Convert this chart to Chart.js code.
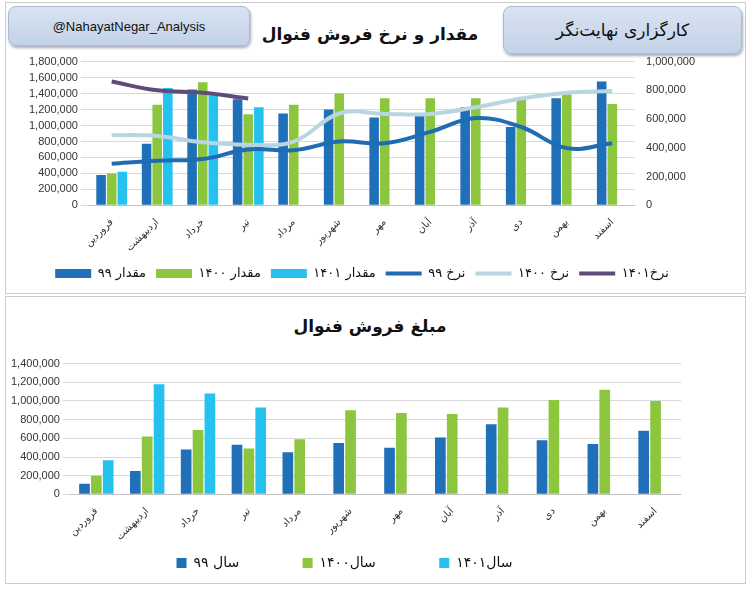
<!DOCTYPE html>
<html><head><meta charset="utf-8">
<script src="https://cdn.jsdelivr.net/npm/chart.js@4"></script>
<style>
body{margin:0;background:#fff;width:749px;height:590px;position:relative;font-family:"DejaVu Sans",sans-serif;overflow:hidden}
.box{position:absolute;background:linear-gradient(#d9e3f1,#c3d2e8);border:1px solid #a9b9d3;border-radius:8px;color:#111;display:flex;align-items:center;justify-content:center;box-shadow:1px 2px 3px #aab}
.panel{position:absolute;border:1px solid #ccc}
.title{position:absolute;font-weight:bold;font-size:17px;color:#111;text-align:center;direction:rtl}
canvas{position:absolute}
</style></head><body>
<div class="panel" style="left:5px;top:2px;width:739px;height:290px"></div>
<div class="panel" style="left:5px;top:296px;width:739px;height:286px"></div>
<div class="box" style="left:8px;top:6px;width:240px;height:38px;font-size:13px;font-family:Arial,'Liberation Sans'">@NahayatNegar_Analysis</div>
<div class="box" style="left:503px;top:6px;width:237px;height:46px;font-size:17px;direction:rtl">کارگزاری نهایت‌نگر</div>
<div class="title" style="left:250px;top:24px;width:240px">مقدار و نرخ فروش فنوال</div>
<div class="title" style="left:250px;top:316px;width:240px">مبلغ فروش فنوال</div>
<div style="position:absolute;left:8px;top:52px;width:690px;height:238px"><canvas id="c1"></canvas></div>
<div style="position:absolute;left:8px;top:354px;width:735px;height:226px"><canvas id="c2"></canvas></div>
<script>
const months=["فروردین","اردیبهشت","خرداد","تیر","مرداد","شهریور","مهر","آبان","آذر","دی","بهمن","اسفند"];
const qty99=[380000,770000,1450000,1330000,1150000,1200000,1100000,1125000,1230000,980000,1340000,1550000];
const qty1400=[400000,1260000,1540000,1140000,1260000,1400000,1340000,1340000,1340000,1330000,1390000,1270000];
const qty1401=[420000,1470000,1380000,1230000,null,null,null,null,null,null,null,null];
const rate99=[289000,311000,322000,389000,383000,444000,432000,511000,607000,545000,398000,432000];
const rate1400=[489000,483000,439000,422000,444000,639000,636000,636000,682000,743000,784000,795000];
const rate1401=[861000,800000,783000,744000,null,null,null,null,null,null,null,null];
const amt99=[115000,250000,480000,530000,450000,550000,500000,610000,750000,580000,540000,680000];
const amt1400=[200000,620000,690000,490000,590000,900000,870000,860000,930000,1010000,1120000,1000000];
const amt1401=[365000,1180000,1080000,930000,null,null,null,null,null,null,null,null];
const C99='#1f6fb9',C00='#8cc63f',C01='#25c1ef';
const F="'DejaVu Sans',sans-serif";
const tick={color:'#333',font:{size:11,family:"'Liberation Sans',Arial"},autoSkip:false};
const xTicks={color:'#333',font:{size:10,family:F},minRotation:45,maxRotation:45,autoSkip:false};
const grid={color:'#d9d9d9'};
const fmt=v=>v.toLocaleString('en-US');
const bySet=(a,b)=>a.datasetIndex-b.datasetIndex;
new Chart(document.getElementById('c1'),{
 data:{labels:months,datasets:[
  {type:'bar',label:'مقدار ۹۹',data:qty99,backgroundColor:C99,yAxisID:'y',order:2,pointStyle:'rect'},
  {type:'bar',label:'مقدار ۱۴۰۰',data:qty1400,backgroundColor:C00,yAxisID:'y',order:2,pointStyle:'rect'},
  {type:'bar',label:'مقدار ۱۴۰۱',data:qty1401,backgroundColor:C01,yAxisID:'y',order:2,pointStyle:'rect'},
  {type:'line',label:'نرخ ۹۹',data:rate99,borderColor:'#1f6cb3',borderWidth:4,pointRadius:0,tension:0.4,yAxisID:'y1',order:1,pointStyle:'line'},
  {type:'line',label:'نرخ ۱۴۰۰',data:rate1400,borderColor:'#b7d6e2',borderWidth:4,pointRadius:0,tension:0.4,yAxisID:'y1',order:1,pointStyle:'line'},
  {type:'line',label:'نرخ۱۴۰۱',data:rate1401,borderColor:'#5e4b7c',borderWidth:4,pointRadius:0,tension:0.4,yAxisID:'y1',order:1,pointStyle:'line'}
 ]},
 options:{responsive:true,maintainAspectRatio:false,animation:false,
  layout:{padding:{top:2,right:0,left:18}},
  datasets:{bar:{categoryPercentage:0.7,barPercentage:0.9}},
  plugins:{legend:{position:'bottom',labels:{font:{size:13,family:F},color:'#111',usePointStyle:true,pointStyleWidth:36,boxHeight:9,padding:10,sort:bySet}},tooltip:{enabled:false}},
  scales:{
   x:{grid:{display:false},ticks:xTicks},
   y:{min:0,max:1800000,ticks:{...tick,stepSize:200000,callback:fmt},grid,border:{display:false}},
   y1:{position:'right',min:0,max:1000000,ticks:{...tick,stepSize:200000,callback:fmt},grid:{display:false},border:{display:false}}
  }}
});
new Chart(document.getElementById('c2'),{
 type:'bar',
 data:{labels:months,datasets:[
  {label:'سال ۹۹            ',data:amt99,backgroundColor:C99},
  {label:'سال۱۴۰۰            ',data:amt1400,backgroundColor:C00},
  {label:'سال۱۴۰۱',data:amt1401,backgroundColor:C01}
 ]},
 options:{responsive:true,maintainAspectRatio:false,animation:false,
  layout:{padding:{right:62}},
  datasets:{bar:{categoryPercentage:0.7,barPercentage:0.9}},
  plugins:{legend:{position:'bottom',labels:{font:{size:14,family:F},color:'#111',boxWidth:10,boxHeight:10,padding:10,sort:bySet}},tooltip:{enabled:false}},
  scales:{
   x:{grid:{display:false},ticks:xTicks},
   y:{min:0,max:1400000,ticks:{...tick,stepSize:200000,callback:fmt},grid,border:{display:false}}
  }}
});
</script></body></html>
